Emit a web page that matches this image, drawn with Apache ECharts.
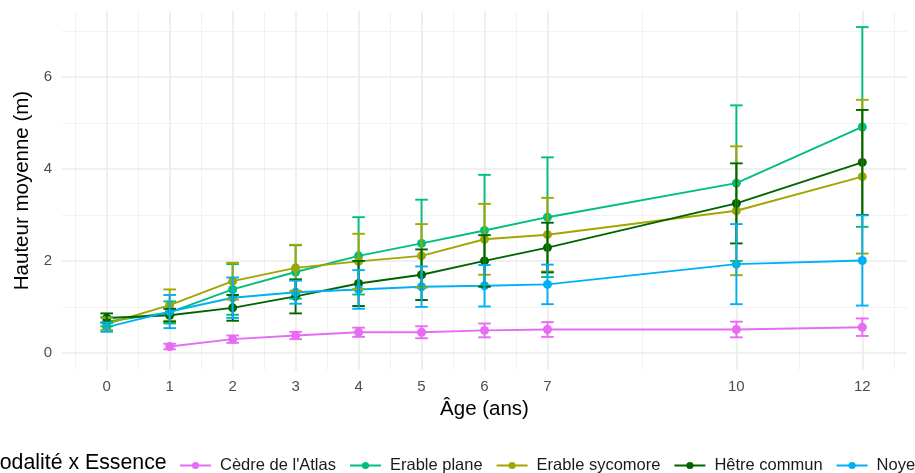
<!DOCTYPE html>
<html>
<head>
<meta charset="utf-8">
<script src="https://cdn.jsdelivr.net/npm/echarts@6/dist/echarts.min.js"></script>
<style>
  html, body { margin: 0; padding: 0; background: #fff; }
  #main { width: 915px; height: 473px; }
</style>
</head>
<body>
<div id="main"></div>
<script>
// données
const ages = [0, 1, 2, 3, 4, 5, 6, 7, 10, 12];
const essences = ["Cèdre de l'Atlas", 'Erable plane', 'Erable sycomore', 'Hêtre commun', 'Noyer'];

const cedreMoy = [null, 0.14, 0.30, 0.38, 0.45, 0.45, 0.49, 0.51, 0.51, 0.56];
const cedreErr = [null, 0.06, 0.08, 0.08, 0.10, 0.13, 0.15, 0.16, 0.17, 0.19];

const planeMoy = [0.68, 0.88, 1.38, 1.76, 2.11, 2.38, 2.66, 2.95, 3.69, 4.91];
const planeErr = [0.10, 0.24, 0.55, 0.58, 0.84, 0.95, 1.21, 1.30, 1.69, 2.17];

const sycomoreMoy = [0.63, 1.04, 1.56, 1.85, 1.99, 2.11, 2.47, 2.57, 3.09, 3.83];
const sycomoreErr = [0.13, 0.34, 0.40, 0.50, 0.60, 0.69, 0.77, 0.80, 1.40, 1.67];

const hetreMoy = [0.76, 0.82, 0.98, 1.23, 1.51, 1.70, 2.00, 2.29, 3.25, 4.14];
const hetreErr = [0.10, 0.14, 0.28, 0.37, 0.49, 0.55, 0.56, 0.54, 0.87, 1.14];

const noyerMoy = [0.56, 0.90, 1.20, 1.32, 1.38, 1.44, 1.46, 1.49, 1.93, 2.01];
const noyerErr = [0.10, 0.36, 0.44, 0.25, 0.42, 0.44, 0.45, 0.43, 0.87, 0.98];

const xTicks = [0, 1, 2, 3, 4, 5, 6, 7, 10, 12];
const xMinor = [-0.5, 0.5, 1.5, 2.5, 3.5, 4.5, 5.5, 6.5, 8.5, 11, 12.5];
const yTicks = [0, 2, 4, 6];
const yMinor = [1, 3, 5, 7];

const colors = ['#E76BF3', '#00BF7D', '#A3A500', '#006400', '#00B0F6'];
const moyennes = [cedreMoy, planeMoy, sycomoreMoy, hetreMoy, noyerMoy];
const erreurs = [cedreErr, planeErr, sycomoreErr, hetreErr, noyerErr];

window.onload = function () {
  const chart = echarts.init(document.getElementById('main'));
  const font = 'Liberation Sans, Arial, sans-serif';

  // lignes de grille (majeures + mineures) façon theme_minimal
  const gridLines = [];
  xMinor.forEach(v => gridLines.push({ xAxis: v, lineStyle: { color: '#F2F2F2', width: 1, type: 'solid' } }));
  yMinor.forEach(v => gridLines.push({ yAxis: v, lineStyle: { color: '#F2F2F2', width: 1, type: 'solid' } }));
  xTicks.forEach(v => gridLines.push({ xAxis: v, lineStyle: { color: '#EBEBEB', width: 1.6, type: 'solid' } }));
  yTicks.forEach(v => gridLines.push({ yAxis: v, lineStyle: { color: '#EBEBEB', width: 1.6, type: 'solid' } }));

  const series = [{
    name: 'grille',
    type: 'line',
    data: [[0, 0]],
    showSymbol: false,
    lineStyle: { opacity: 0 },
    z: 1,
    silent: true,
    markLine: {
      silent: true, symbol: 'none', z: 1, animation: false,
      label: { show: false },
      lineStyle: { type: 'solid' },
      data: gridLines
    }
  }];

  essences.forEach((nom, k) => {
    const pts = [];
    const bars = [];
    ages.forEach((a, i) => {
      const m = moyennes[k][i];
      if (m === null) return;
      pts.push([a, m]);
      bars.push([a, m - erreurs[k][i], m + erreurs[k][i]]);
    });
    series.push({
      name: nom,
      type: 'line',
      data: pts,
      symbol: 'circle',
      symbolSize: 9,
      color: colors[k],
      lineStyle: { width: 1.9, color: colors[k] },
      itemStyle: { color: colors[k], borderWidth: 0 },
      z: 3
    });
    series.push({
      name: nom,
      type: 'custom',
      data: bars,
      encode: { x: 0, y: [1, 2] },
      z: 4,
      renderItem: function (params, api) {
        const x = api.value(0);
        const lo = api.coord([x, api.value(1)]);
        const hi = api.coord([x, api.value(2)]);
        const half = api.size([0.1, 0])[0];
        const st = { stroke: colors[k], lineWidth: 1.9 };
        return {
          type: 'group',
          children: [
            { type: 'line', shape: { x1: lo[0], y1: lo[1], x2: hi[0], y2: hi[1] }, style: st },
            { type: 'line', shape: { x1: hi[0] - half, y1: hi[1], x2: hi[0] + half, y2: hi[1] }, style: st },
            { type: 'line', shape: { x1: lo[0] - half, y1: lo[1], x2: lo[0] + half, y2: lo[1] }, style: st }
          ]
        };
      }
    });
  });

  const option = {
    animation: false,
    textStyle: { fontFamily: font },
    grid: { left: 62, right: 8, top: 11, bottom: 103, containLabel: false },
    xAxis: {
      type: 'value',
      min: -0.71,
      max: 12.71,
      name: 'Âge (ans)',
      nameLocation: 'middle',
      nameGap: 27,
      nameTextStyle: { fontSize: 20.5, color: '#000', fontFamily: font },
      axisLine: { show: false },
      axisTick: { show: false },
      splitLine: { show: false },
      axisLabel: { customValues: xTicks, fontSize: 15, color: '#4D4D4D', margin: 9, fontFamily: font }
    },
    yAxis: {
      type: 'value',
      min: -0.37,
      max: 7.43,
      name: 'Hauteur moyenne (m)',
      nameLocation: 'middle',
      nameGap: 29,
      nameTextStyle: { fontSize: 20.5, color: '#000', fontFamily: font },
      axisLine: { show: false },
      axisTick: { show: false },
      splitLine: { show: false },
      axisLabel: { customValues: yTicks, fontSize: 15, color: '#4D4D4D', margin: 10, fontFamily: font }
    },
    legend: {
      data: essences,
      left: 174,
      top: 452,
      width: 1400,
      itemWidth: 31,
      itemHeight: 9,
      itemGap: 13,
      textStyle: { fontSize: 16.5, color: '#1A1A1A', fontFamily: font, padding: [0, 0, 0, 4] }
    },
    graphic: [{
      type: 'text',
      left: -18,
      top: 453,
      style: { text: 'Modalité x Essence', fontSize: 21.3, fill: '#000', fontFamily: font }
    }],
    series: series
  };

  chart.setOption(option);
};
</script>
</body>
</html>
